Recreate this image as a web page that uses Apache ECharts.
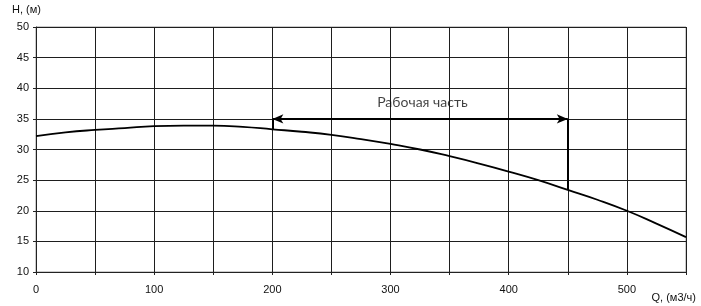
<!DOCTYPE html>
<html><head><meta charset="utf-8">
<script src="https://cdn.jsdelivr.net/npm/echarts@6/dist/echarts.min.js"></script>
<style>html,body{margin:0;padding:0;background:#fff}#c{width:701px;height:306px}</style>
</head><body><div id="c"></div>
<script>
const qValues = [0,25,50,75,100,125,150,175,200,225,250,275,300,325,350,375,400,425,450,475,500,525,550];
const hValues = [32.2,32.8,33.2,33.5,33.8,33.9,33.9,33.7,33.3,32.9,32.4,31.7,30.9,30.0,28.9,27.7,26.4,25.0,23.4,21.8,20.0,17.9,15.7];
const xTickLabels = ['0','100','200','300','400','500'];
const yTickLabels = ['10','15','20','25','30','35','40','45','50'];
const workStart = 200, workEnd = 450, workH = 35;
const workStartCurveH = 33.3, workEndCurveH = 23.4;
const workLabel = 'Рабочая часть';
const workLabelPos = [327, 37.6];

const chart = echarts.init(document.getElementById('c'), null, {renderer:'canvas'});
const font = 'Liberation Sans, Arial, sans-serif';
chart.setOption({
  animation:false,
  grid:{left:36, right:15, top:27, bottom:34, show:true, borderColor:'#999', borderWidth:1},
  xAxis:{type:'value', min:0, max:550, interval:50,
    axisLine:{onZero:false, lineStyle:{color:'#222'}},
    axisTick:{show:true, length:3, lineStyle:{color:'#222'}},
    splitLine:{show:true, lineStyle:{color:'#1e1e1e', width:1}},
    axisLabel:{color:'#111', fontFamily:font, fontSize:11, margin:12,
      formatter:v=>xTickLabels.includes(String(v))?String(v):''},
    name:'Q, (м3/ч)', nameLocation:'end', nameGap:0,
    nameTextStyle:{color:'#111', fontFamily:font, fontSize:11, align:'right', verticalAlign:'top', padding:[20,-10,0,0]}
  },
  yAxis:{type:'value', min:10, max:50, interval:5,
    axisLine:{show:true, lineStyle:{color:'#222'}},
    axisTick:{show:true, length:3, lineStyle:{color:'#222'}},
    splitLine:{show:true, lineStyle:{color:'#1e1e1e', width:1}},
    axisLabel:{color:'#111', fontFamily:font, fontSize:11, margin:7,
      formatter:v=>yTickLabels.includes(String(v))?String(v):''},
    name:'H, (м)', nameLocation:'end', nameGap:12,
    nameTextStyle:{color:'#111', fontFamily:font, fontSize:11, align:'left', padding:[0,0,0,-24]}
  },
  series:[
    {type:'line', smooth:true, symbol:'none', data:qValues.map((q,i)=>[q,hValues[i]]),
     lineStyle:{color:'#000', width:1.8}, z:5,
     markLine:{silent:true, symbol:'none', animation:false,
       label:{show:false},
       data:[
         [{coord:[workStart,workH], symbol:'arrow', symbolSize:[7,11]},{coord:[workEnd,workH], symbol:'arrow', symbolSize:[7,11]}],
         [{coord:[workEnd,workH]},{coord:[workEnd,workEndCurveH]}],
         [{coord:[workStart,workH]},{coord:[workStart,workStartCurveH]}]
       ],
       lineStyle:{color:'#000', width:2, type:'solid'}
     }
    },
    {type:'scatter', symbolSize:0, data:[workLabelPos], z:6,
     label:{show:true, position:'inside', formatter:workLabel, color:'#111', fontFamily:'Lato, Open Sans, sans-serif', fontSize:14}}
  ]
});
</script></body></html>
